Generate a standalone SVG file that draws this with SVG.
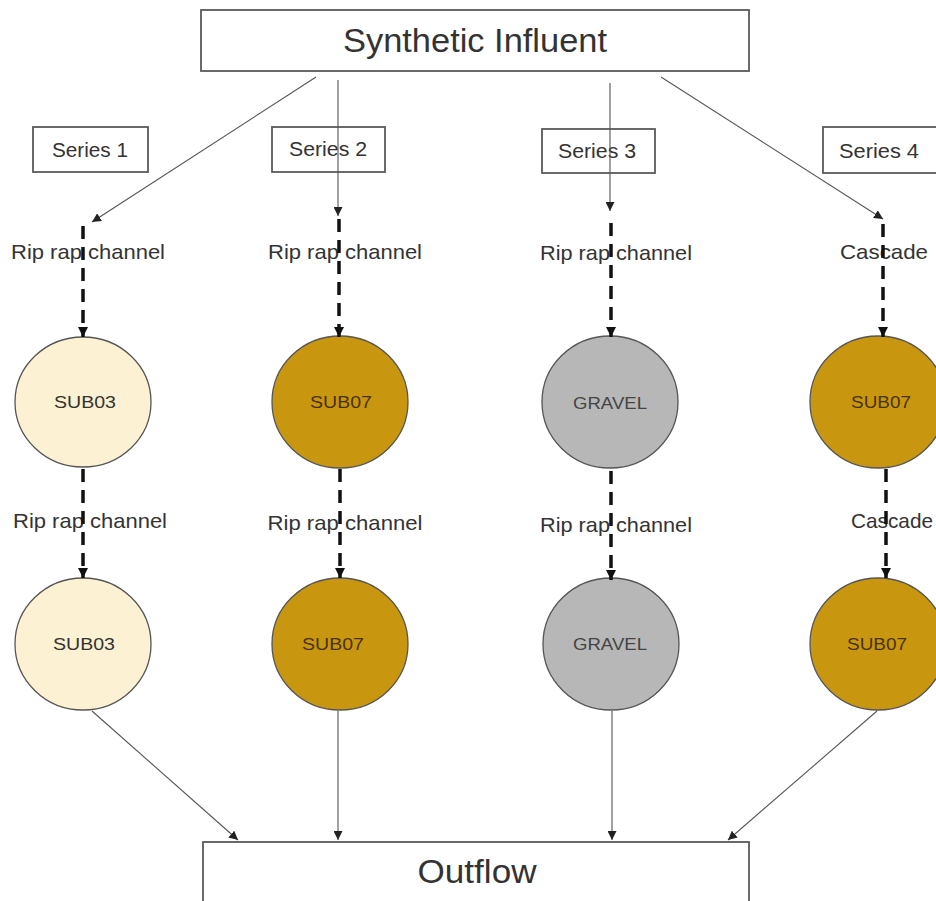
<svg xmlns="http://www.w3.org/2000/svg" width="936" height="901" viewBox="0 0 936 901">
  <style>
    .box { fill: #ffffff; stroke: #5a5a5a; stroke-width: 1.8; }
    .lbl { font-family: "Liberation Sans", Arial, sans-serif; fill: #333333; text-anchor: middle; }
    .big { font-size: 34px; }
    .ser { font-size: 20px; }
    .flow { font-size: 21px; }
    .node-txt { font-size: 16px; }
    .thin { stroke: #555555; stroke-width: 1.1; fill: none; }
    .dash { stroke: #111111; stroke-width: 3.5; stroke-dasharray: 13 8; fill: none; }
    .circ { stroke: #555555; stroke-width: 1.3; }
    .sub03 { fill: #fcf1d2; }
    .sub07 { fill: #c9970f; }
    .gravel { fill: #b7b7b7; }
    .t07 { fill: #4a3200; }
    .tgr { fill: #444444; }
  </style>
  <defs>
    <marker id="tip" viewBox="0 0 10 10" refX="10" refY="5" markerWidth="9" markerHeight="9" markerUnits="userSpaceOnUse" orient="auto">
      <path d="M0,0 L10,5 L0,10 Z" fill="#222222"/>
    </marker>
    <marker id="tipBold" viewBox="0 0 10 10" refX="10" refY="5" markerWidth="10" markerHeight="10" markerUnits="userSpaceOnUse" orient="auto">
      <path d="M0,0 L10,5 L0,10 Z" fill="#111111"/>
    </marker>
  </defs>

  <rect width="936" height="901" fill="#ffffff"/>

  <!-- source and sink boxes -->
  <g id="influent">
    <rect class="box" x="201" y="10" width="548" height="61"/>
    <text class="lbl big" x="475" y="52" textLength="264" lengthAdjust="spacingAndGlyphs">Synthetic Influent</text>
  </g>
  <g id="outflow">
    <rect class="box" x="203" y="842" width="546" height="70"/>
    <text class="lbl big" x="477" y="883" textLength="119" lengthAdjust="spacingAndGlyphs">Outflow</text>
  </g>

  <!-- series headers -->
  <g id="series1">
    <rect class="box" x="33" y="127" width="115" height="45"/>
    <text class="lbl ser" x="90" y="157" textLength="76" lengthAdjust="spacingAndGlyphs">Series 1</text>
  </g>
  <g id="series2">
    <rect class="box" x="272" y="127" width="113" height="45"/>
    <text class="lbl ser" x="328" y="156" textLength="78" lengthAdjust="spacingAndGlyphs">Series 2</text>
  </g>
  <g id="series3">
    <rect class="box" x="542" y="129" width="113" height="44"/>
    <text class="lbl ser" x="597" y="158" textLength="78" lengthAdjust="spacingAndGlyphs">Series 3</text>
  </g>
  <g id="series4">
    <rect class="box" x="823" y="127" width="120" height="46"/>
    <text class="lbl ser" x="879" y="158" textLength="80" lengthAdjust="spacingAndGlyphs">Series 4</text>
  </g>

  <!-- flow-path labels -->
  <g id="path-labels">
    <text class="lbl flow" x="88" y="259" textLength="154" lengthAdjust="spacingAndGlyphs">Rip rap channel</text>
    <text class="lbl flow" x="345" y="259" textLength="154" lengthAdjust="spacingAndGlyphs">Rip rap channel</text>
    <text class="lbl flow" x="616" y="260" textLength="152" lengthAdjust="spacingAndGlyphs">Rip rap channel</text>
    <text class="lbl flow" x="884" y="259" textLength="88" lengthAdjust="spacingAndGlyphs">Cascade</text>
    <text class="lbl flow" x="90" y="528" textLength="154" lengthAdjust="spacingAndGlyphs">Rip rap channel</text>
    <text class="lbl flow" x="345" y="530" textLength="155" lengthAdjust="spacingAndGlyphs">Rip rap channel</text>
    <text class="lbl flow" x="616" y="532" textLength="152" lengthAdjust="spacingAndGlyphs">Rip rap channel</text>
    <text class="lbl flow" x="892" y="528" textLength="82" lengthAdjust="spacingAndGlyphs">Cascade</text>
  </g>

  <!-- media nodes, first row -->
  <g id="s1-a">
    <ellipse class="circ sub03" cx="83" cy="402" rx="68" ry="65"/>
    <text class="lbl node-txt" x="85" y="408" textLength="62" lengthAdjust="spacingAndGlyphs">SUB03</text>
  </g>
  <g id="s2-a">
    <ellipse class="circ sub07" cx="340" cy="402" rx="68" ry="66"/>
    <text class="lbl node-txt t07" x="341" y="408" textLength="62" lengthAdjust="spacingAndGlyphs">SUB07</text>
  </g>
  <g id="s3-a">
    <ellipse class="circ gravel" cx="610" cy="402" rx="68" ry="66"/>
    <text class="lbl node-txt tgr" x="610" y="409" textLength="74" lengthAdjust="spacingAndGlyphs">GRAVEL</text>
  </g>
  <g id="s4-a">
    <ellipse class="circ sub07" cx="878" cy="402" rx="68" ry="66"/>
    <text class="lbl node-txt t07" x="881" y="408" textLength="60" lengthAdjust="spacingAndGlyphs">SUB07</text>
  </g>

  <!-- media nodes, second row -->
  <g id="s1-b">
    <ellipse class="circ sub03" cx="83" cy="644" rx="68" ry="66"/>
    <text class="lbl node-txt" x="84" y="650" textLength="62" lengthAdjust="spacingAndGlyphs">SUB03</text>
  </g>
  <g id="s2-b">
    <ellipse class="circ sub07" cx="340" cy="644" rx="68" ry="66"/>
    <text class="lbl node-txt t07" x="333" y="650" textLength="62" lengthAdjust="spacingAndGlyphs">SUB07</text>
  </g>
  <g id="s3-b">
    <ellipse class="circ gravel" cx="611" cy="644" rx="68" ry="66"/>
    <text class="lbl node-txt tgr" x="610" y="650" textLength="74" lengthAdjust="spacingAndGlyphs">GRAVEL</text>
  </g>
  <g id="s4-b">
    <ellipse class="circ sub07" cx="878" cy="644" rx="68" ry="66"/>
    <text class="lbl node-txt t07" x="877" y="650" textLength="60" lengthAdjust="spacingAndGlyphs">SUB07</text>
  </g>

  <!-- connectors -->
  <g id="connectors">
    <!-- influent to each series -->
    <line class="thin" x1="316" y1="77" x2="92" y2="222" marker-end="url(#tip)"/>
    <line class="thin" x1="338" y1="80" x2="338" y2="216" marker-end="url(#tip)"/>
    <line class="thin" x1="610" y1="83" x2="610" y2="211" marker-end="url(#tip)"/>
    <line class="thin" x1="661" y1="77" x2="883" y2="219" marker-end="url(#tip)"/>

    <!-- treatment paths into first-row media -->
    <line class="dash" x1="83" y1="226" x2="83" y2="337" marker-end="url(#tipBold)"/>
    <line class="dash" x1="339" y1="219" x2="339" y2="337" marker-end="url(#tipBold)"/>
    <line class="dash" x1="611" y1="223" x2="611" y2="337" marker-end="url(#tipBold)"/>
    <line class="dash" x1="883" y1="224" x2="883" y2="337" marker-end="url(#tipBold)"/>

    <!-- treatment paths into second-row media -->
    <line class="dash" x1="83" y1="469" x2="83" y2="578" marker-end="url(#tipBold)"/>
    <line class="dash" x1="340" y1="469" x2="340" y2="578" marker-end="url(#tipBold)"/>
    <line class="dash" x1="611" y1="471" x2="611" y2="580" marker-end="url(#tipBold)"/>
    <line class="dash" x1="886" y1="469" x2="886" y2="578" marker-end="url(#tipBold)"/>

    <!-- media to outflow -->
    <line class="thin" x1="92" y1="711" x2="238" y2="840" marker-end="url(#tip)"/>
    <line class="thin" x1="338" y1="711" x2="338" y2="840" marker-end="url(#tip)"/>
    <line class="thin" x1="612" y1="711" x2="612" y2="840" marker-end="url(#tip)"/>
    <line class="thin" x1="877" y1="711" x2="728" y2="840" marker-end="url(#tip)"/>
  </g>
</svg>
